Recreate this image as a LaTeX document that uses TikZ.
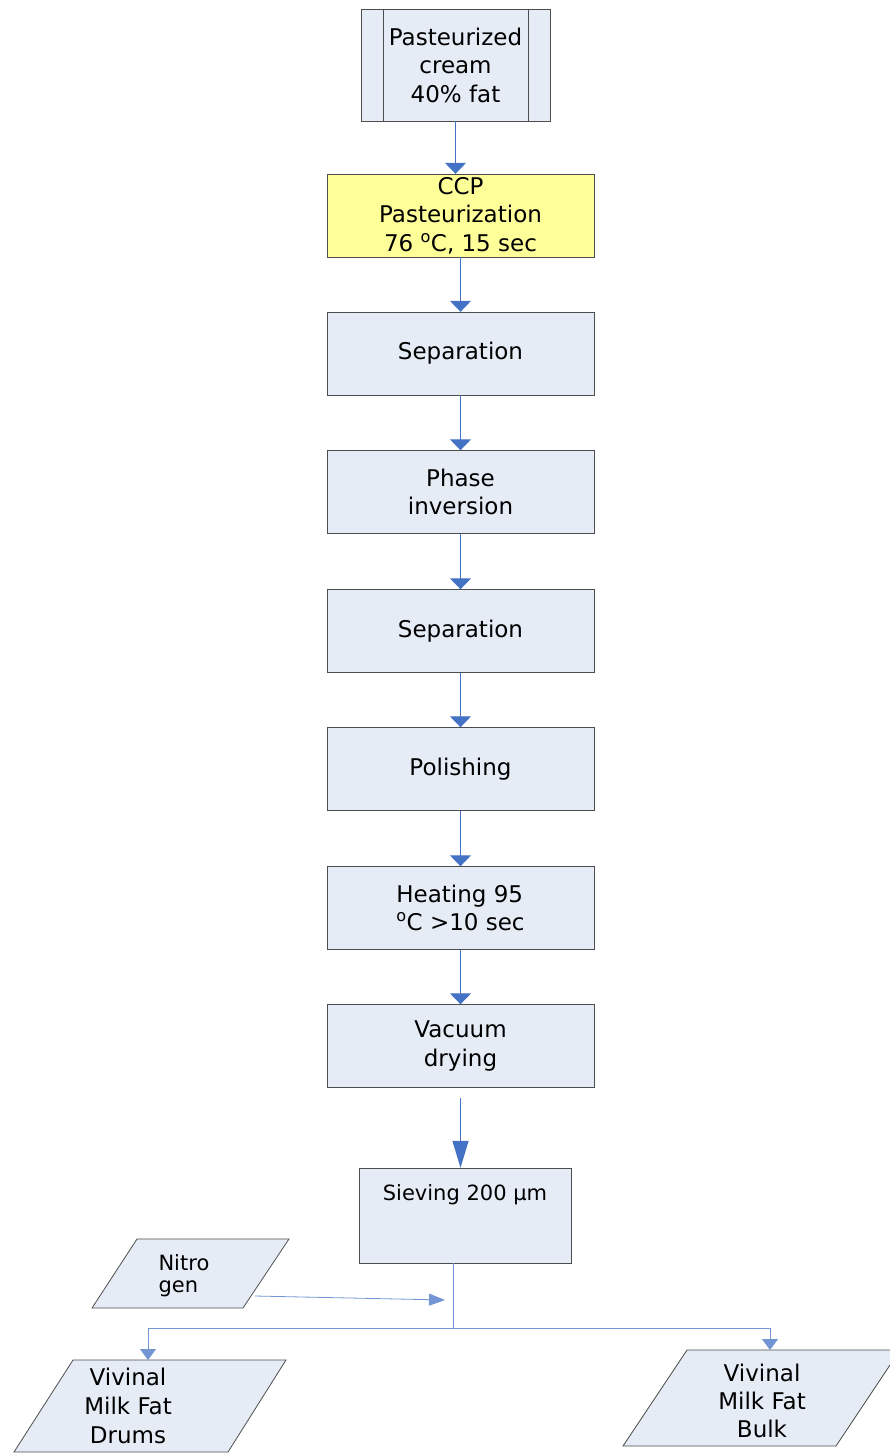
\documentclass[tikz,border=0pt]{standalone}
\usepackage{fontspec}
\setmainfont{DejaVu Sans}
\usetikzlibrary{arrows.meta}
\definecolor{boxfill}{HTML}{E6ECF6}
\definecolor{ccpfill}{HTML}{FFFF99}
\definecolor{flow}{HTML}{4472C4}
\definecolor{boxline}{HTML}{4D4D4D}
\begin{document}
\begin{tikzpicture}[x=1pt,y=-1pt,
        box/.style={draw=boxline,fill=boxfill,minimum width=267pt,minimum height=83pt,align=center,inner sep=0pt,font=\fontsize{23}{28.5}\selectfont},
        io/.style={draw=boxline,fill=boxfill,line width=.8pt},
        flowarr/.style={draw=flow,line width=1.2pt,-{Triangle[width=21pt,length=11pt]}},
        branch/.style={draw=flow!75,line width=.8pt,-{Triangle[width=16pt,length=11pt]}}]
        \useasboundingbox (0,0) rectangle (889,1453);
        % process steps
        \node[box,minimum width=189pt,minimum height=112pt] (cream) at (455.5,65) {Pasteurized\\cream\\40\% fat};
        \draw[boxline] ([xshift=22pt]cream.north west)--([xshift=22pt]cream.south west);
        \draw[boxline] ([xshift=-22pt]cream.north east)--([xshift=-22pt]cream.south east);
        \node[box,fill=ccpfill] (ccp) at (460.5,215.5) {CCP\\Pasteurization\\76 \textsuperscript{o}C, 15 sec};
        \node[box] (sepa) at (460.5,353.5) {Separation};
        \node[box] (phase) at (460.5,492) {Phase\\inversion};
        \node[box] (sepb) at (460.5,631) {Separation};
        \node[box] (polish) at (460.5,769) {Polishing};
        \node[box,align=left] (heat) at (460.5,908) {Heating 95\\\textsuperscript{o}C >10 sec};
        \node[box] (vac) at (460.5,1046) {Vacuum\\drying};
        \node[box,minimum width=212pt,minimum height=95pt] (sieve) at (465,1215.5) {};
        \node[font=\fontsize{21}{24}\selectfont,anchor=base] (sievetxt) at (465,1200) {Sieving 200 µm};
        % in- and outputs
        \draw[io] (92,1308)--(137,1239)--(289,1239)--(243,1308)--cycle;
        \node[font=\fontsize{21}{22}\selectfont,align=left,anchor=west] (nitro) at (155,1276) {Nitro\\gen};
        \draw[io] (14,1452)--(73,1360)--(286,1360)--(228,1452)--cycle;
        \node[font=\fontsize{23}{29}\selectfont,align=center] (drums) at (128,1406) {Vivinal\\Milk Fat\\Drums};
        \draw[io] (623,1446)--(687,1350)--(900,1350)--(836,1446)--cycle;
        \node[font=\fontsize{23}{28}\selectfont,align=center] (bulk) at (762,1401) {Vivinal\\Milk Fat\\Bulk};
        \coordinate (split) at (453,1328);
        \coordinate (nitroout) at (255,1296);
        \coordinate (nitroin) at (445,1300);
        \coordinate (drumsin) at (148,1360);
        \coordinate (bulkin) at (770,1350);
        % flow
        \draw[flowarr] (cream.south)--(cream.south|-ccp.north);
        \draw[flowarr] (ccp)--(sepa);
        \draw[flowarr] (sepa)--(phase);
        \draw[flowarr] (phase)--(sepb);
        \draw[flowarr] (sepb)--(polish);
        \draw[flowarr] (polish)--(heat);
        \draw[flowarr] (heat)--(vac);
        \draw[flowarr,-{Triangle[width=16pt,length=27pt]}] ([yshift=-10pt]vac.south)--(vac.south|-sieve.north);
        \draw[draw=flow!75,line width=.8pt] (split|-sieve.south)--(split);
        \draw[branch,-{Triangle[width=12pt,length=16pt]}] (nitroout)--(nitroin);
        \draw[branch] (split)-|(drumsin);
        \draw[branch] (split)-|(bulkin);
    \end{tikzpicture}
\end{document}
